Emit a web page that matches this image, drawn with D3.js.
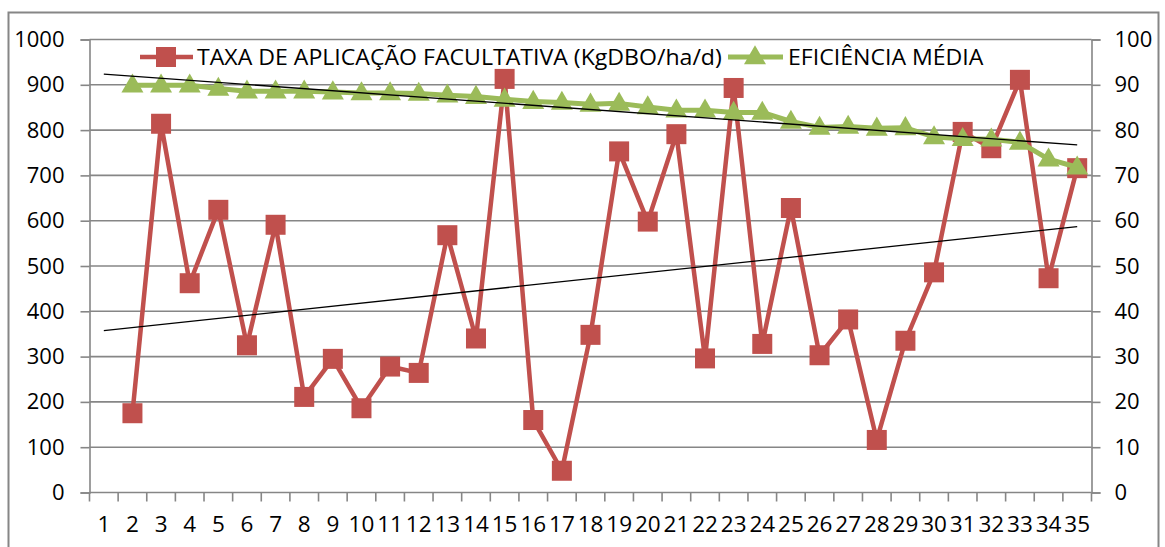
<!DOCTYPE html>
<html>
<head>
<meta charset="utf-8">
<script src="https://cdn.jsdelivr.net/npm/d3@7/dist/d3.min.js"></script>
<style>
  html, body { margin: 0; padding: 0; background: #fff; }
  svg { display: block; }
  text { font-family: "Open Sans", "Liberation Sans", sans-serif; fill: #000; }
</style>
</head>
<body>
<svg id="chart" width="1165" height="547"></svg>
<script>
// ---- data ----
const categories = ["1","2","3","4","5","6","7","8","9","10","11","12","13","14","15","16","17","18","19","20","21","22","23","24","25","26","27","28","29","30","31","32","33","34","35"];
const taxaAplicacao = [null, 175, 814, 462, 624, 325, 591, 211, 295, 186, 278, 264, 568, 340, 913, 160, 48, 348, 753, 598, 791, 296, 893, 328, 628, 303, 382, 116, 335, 486, 796, 760, 911, 473, 716];
const eficienciaMedia = [null, 89.9, 89.9, 89.9, 89.2, 88.6, 88.6, 88.6, 88.4, 88.2, 88.2, 88.1, 87.7, 87.4, 86.8, 86.3, 86.1, 85.7, 85.9, 85.1, 84.4, 84.4, 83.9, 83.9, 81.9, 80.6, 80.8, 80.4, 80.5, 78.5, 78.1, 78.0, 77.3, 73.6, 71.8];
const leftTicks = [0, 100, 200, 300, 400, 500, 600, 700, 800, 900, 1000];
const rightTicks = [0, 10, 20, 30, 40, 50, 60, 70, 80, 90, 100];
const seriesNames = ["TAXA DE APLICAÇÃO FACULTATIVA (KgDBO/ha/d)", "EFICIÊNCIA MÉDIA"];

// ---- layout ----
const svg = d3.select("#chart");
const plot = { left: 89.5, right: 1091.5, top: 39.5, bottom: 492.5 };
const RED = "#C0504D", GREEN = "#9BBB59", GRID = "#868686";

const x = d3.scaleBand().domain(categories).range([plot.left, plot.right]).padding(0);
const yL = d3.scaleLinear().domain([0, 1000]).range([plot.bottom, plot.top]);
const yR = d3.scaleLinear().domain([0, 100]).range([plot.bottom, plot.top]);
const cx = c => x(c) + x.bandwidth() / 2;

// outer border
svg.append("rect").attr("x", 8.5).attr("y", 12.5).attr("width", 1150).attr("height", 560)
  .attr("fill", "#fff").attr("stroke", GRID).attr("stroke-width", 2);

// gridlines
svg.append("g").selectAll("line").data(leftTicks.slice(1)).join("line")
  .attr("x1", plot.left).attr("x2", plot.right)
  .attr("y1", d => yL(d)).attr("y2", d => yL(d))
  .attr("stroke", GRID).attr("stroke-width", 1.6);

// left axis
const gL = svg.append("g").attr("transform", `translate(${plot.left},0)`)
  .call(d3.axisLeft(yL).tickValues(leftTicks).tickSize(9).tickPadding(16).tickFormat(d3.format("d")));
// right axis
const gR = svg.append("g").attr("transform", `translate(${plot.right},0)`)
  .call(d3.axisRight(yR).tickValues(rightTicks).tickSize(9).tickPadding(14).tickFormat(d3.format("d")));
// bottom axis
const gB = svg.append("g").attr("transform", `translate(0,${plot.bottom})`)
  .call(d3.axisBottom(x).tickSize(0).tickPadding(24));
// category boundary ticks
svg.append("g").selectAll("line").data(categories).join("line")
  .attr("x1", d => x(d)).attr("x2", d => x(d))
  .attr("y1", plot.bottom).attr("y2", plot.bottom + 9)
  .attr("stroke", GRID).attr("stroke-width", 1.6);
svg.append("line").attr("x1", plot.right).attr("x2", plot.right)
  .attr("y1", plot.bottom).attr("y2", plot.bottom + 9).attr("stroke", GRID).attr("stroke-width", 1.6);

[gL, gR, gB].forEach(g => {
  g.select(".domain").attr("stroke", GRID).attr("stroke-width", 1.6);
  g.selectAll(".tick line").attr("stroke", GRID).attr("stroke-width", 1.6);
  g.selectAll("text").style("font-family", '"Open Sans", sans-serif').style("font-size", "22px").attr("fill", "#000");
});
gB.selectAll("text").style("font-size", "22.5px");
gB.select(".domain").attr("d", `M${plot.left},0H${plot.right}`);

// ---- series ----
const redPts = categories.map((c, i) => ({ c, v: taxaAplicacao[i] }));
const greenPts = categories.map((c, i) => ({ c, v: eficienciaMedia[i] }));

svg.append("path").datum(redPts)
  .attr("d", d3.line().defined(d => d.v != null).x(d => cx(d.c)).y(d => yL(d.v)))
  .attr("fill", "none").attr("stroke", RED).attr("stroke-width", 4.5).attr("stroke-linejoin", "round");
svg.append("g").selectAll("rect").data(redPts.filter(d => d.v != null)).join("rect")
  .attr("x", d => cx(d.c) - 10).attr("y", d => yL(d.v) - 10)
  .attr("width", 20).attr("height", 20).attr("fill", RED);

const tri = d3.symbol().type(d3.symbolTriangle).size(210);
svg.append("path").datum(greenPts)
  .attr("d", d3.line().defined(d => d.v != null).x(d => cx(d.c)).y(d => yR(d.v)))
  .attr("fill", "none").attr("stroke", GREEN).attr("stroke-width", 5).attr("stroke-linejoin", "round");
svg.append("g").selectAll("path").data(greenPts.filter(d => d.v != null)).join("path")
  .attr("d", tri).attr("transform", d => `translate(${cx(d.c)},${yR(d.v) + 1})`).attr("fill", GREEN);

// ---- linear trendlines (least squares on category index) ----
function trend(vals) {
  const pts = vals.map((v, i) => [i + 1, v]).filter(p => p[1] != null);
  const mx = d3.mean(pts, p => p[0]), my = d3.mean(pts, p => p[1]);
  const b = d3.sum(pts, p => (p[0] - mx) * (p[1] - my)) / d3.sum(pts, p => (p[0] - mx) ** 2);
  const a = my - b * mx;
  return [1, categories.length].map(i => ({ c: categories[i - 1], v: a + b * i }));
}
svg.append("path").datum(trend(taxaAplicacao))
  .attr("d", d3.line().x(d => cx(d.c)).y(d => yL(d.v))).attr("fill", "none").attr("stroke", "#000").attr("stroke-width", 1.3);
svg.append("path").datum(trend(eficienciaMedia))
  .attr("d", d3.line().x(d => cx(d.c)).y(d => yR(d.v))).attr("fill", "none").attr("stroke", "#000").attr("stroke-width", 1.3);

// ---- legend ----
const lg = svg.append("g");
lg.append("line").attr("x1", 140).attr("x2", 193).attr("y1", 57).attr("y2", 57).attr("stroke", RED).attr("stroke-width", 4.5);
lg.append("rect").attr("x", 156).attr("y", 47).attr("width", 20).attr("height", 20).attr("fill", RED);
lg.append("text").attr("transform", "translate(197,65) scale(1.1,1)").style("font-size", "21px").text(seriesNames[0]);
lg.append("line").attr("x1", 728).attr("x2", 783).attr("y1", 57).attr("y2", 57).attr("stroke", GREEN).attr("stroke-width", 5);
lg.append("path").attr("d", tri).attr("transform", "translate(755,58)").attr("fill", GREEN);
lg.append("text").attr("transform", "translate(788,65) scale(1.1,1)").style("font-size", "21px").text(seriesNames[1]);
</script>
</body>
</html>
